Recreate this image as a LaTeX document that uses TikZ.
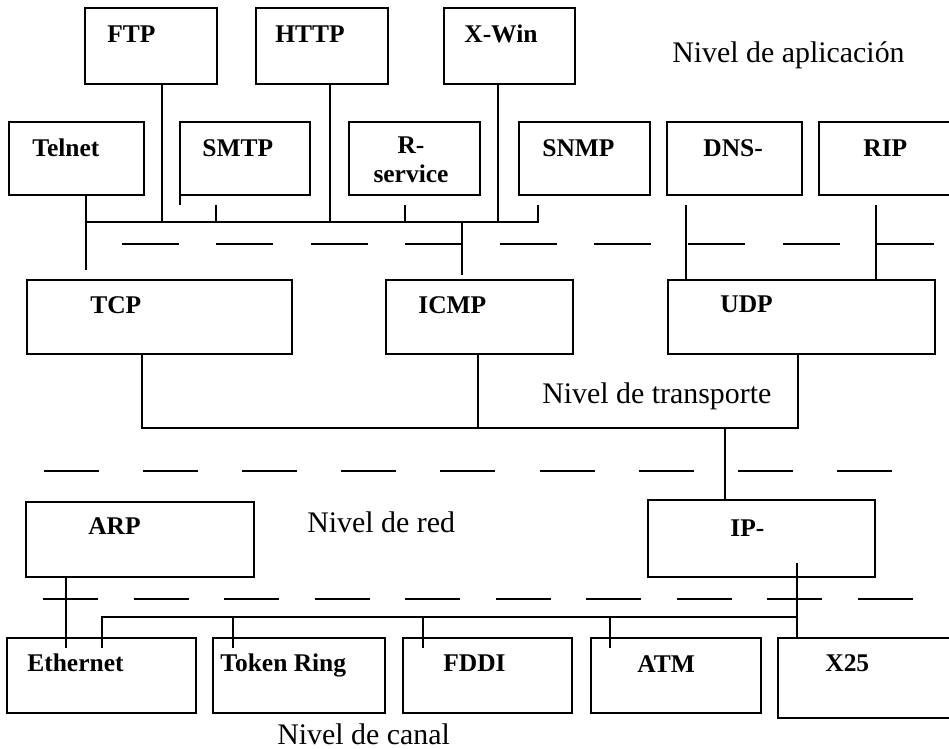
\documentclass[tikz,border=0pt]{standalone}
\usepackage{fontspec}
\setmainfont{Liberation Serif}

\begin{document}
\begin{tikzpicture}[x=0.2mm, y=-0.2mm,
	box/.style={draw, line width=1.1pt, anchor=north west, inner sep=0pt, outer sep=0pt},
	tag/.style={font=\fontsize{14.5}{17}\selectfont\bfseries, anchor=base west, inner sep=0pt},
	level/.style={font=\fontsize{17}{20}\selectfont, anchor=base west, inner sep=0pt},
	wire/.style={line width=1.1pt},
	sep/.style={line width=1.1pt}]
	\useasboundingbox (0,0) rectangle (949,749);
	\clip (0,0) rectangle (949,749);
	% protocol boxes: name/left/top/width/height (pixels)
	\foreach \n/\x/\y/\w/\h in {ftp/85/8/132/76, http/256/8/132/76, xwin/444/8/131/76,
			telnet/9/122/135/73, smtp/180/122/130/73, rsv/349/122/131/73, snmp/519/122/131/73,
			dns/667/122/135/73, rip/819/122/140/73,
			tcp/27/280/265/74, icmp/386/280/187/74, udp/668/280/267/74,
			arp/26/502/228/75, ip/648/500/227/77,
			eth/7/638/189/75, tok/213/638/172/75, fddi/403/638/169/75, atm/591/638/170/75, x25/778/638/180/80} {
		\node[box, minimum width=\w*0.2mm, minimum height=\h*0.2mm] (\n) at (\x,\y) {};
	}
	\foreach \n/\tx/\ty/\txt in {ftp/107/43/FTP, http/275/43/HTTP, xwin/464/43/X-Win,
			telnet/32/157/Telnet, smtp/202/157/SMTP, snmp/542/157/SNMP, dns/703/157/DNS-, rip/863/157/RIP,
			tcp/90/314/TCP, icmp/418/314/ICMP, udp/720/313/UDP, arp/88/535/ARP, ip/730/537/IP-,
			eth/27/672/Ethernet, tok/220/672/Token Ring, fddi/443/672/FDDI, atm/637/673/ATM, x25/825/672/X25} {
		\node[tag] (\n-t) at (\tx,\ty) {\txt};
	}
	\node[tag, anchor=north, align=center] (rsv-t) at (411,136) {R-\\service};

	% level names
	\node[level] (lapp) at (672,63) {Nivel de aplicación};
	\node[level] (ltrans) at (542,404) {Nivel de transporte};
	\node[level] (lred) at (307,533) {Nivel de red};
	\node[level] (lcanal) at (277,744) {Nivel de canal};

	% layer separators
	\draw[sep, dash pattern=on 11.4mm off 7.48mm] (122,244) -- (934,244);
	\draw[sep, dash pattern=on 11mm off 8.82mm] (44,471) -- (892,471);
	\draw[sep, dash pattern=on 11mm off 7.1mm] (43,599) -- (913,599);

	% application bus
	\coordinate (a1) at (86,222);
	\coordinate (a2) at (538,222);
	\draw[wire] (telnet.south -| a1) -- ([yshift=2mm]tcp.north -| a1);
	\draw[wire] (a1) -- (a2) -- ([yshift=-2mm]snmp.south -| a2);
	\foreach \n/\x in {ftp/162, http/330, xwin/498} {
		\coordinate (j\n) at (\x,222);
		\draw[wire] (\n.south -| j\n) -- (j\n);
	}
	\foreach \n/\x in {smtp/216, rsv/405} {
		\coordinate (j\n) at (\x,222);
		\draw[wire] ([yshift=-2mm]\n.south -| j\n) -- (j\n);
	}
	\draw[wire] (smtp.south west) -- ([yshift=-2mm]smtp.south west);
	\coordinate (jicmp) at (462,222);
	\draw[wire] (jicmp) -- ([yshift=1mm]icmp.north -| jicmp);
	\foreach \n/\x in {dns/686, rip/876} {
		\coordinate (j\n) at (\x,280);
		\draw[wire] ([yshift=-2mm]\n.south -| j\n) -- (udp.north -| j\n);
	}

	% transport bus
	\coordinate (t1) at (142,428);
	\coordinate (t2) at (798,428);
	\coordinate (ticmp) at (478,428);
	\coordinate (tip) at (725,428);
	\draw[wire] (tcp.south -| t1) -- (t1) -- (t2) -- (udp.south -| t2);
	\draw[wire] (icmp.south -| ticmp) -- (ticmp);
	\draw[wire] (tip) -- (ip.north -| tip);

	% channel bus
	\coordinate (c1) at (102,617);
	\coordinate (c2) at (797,617);
	\coordinate (carp) at (66,617);
	\draw[wire] ([yshift=-2mm]eth.north -| c1) -- (c1) -- (c2);
	\draw[wire] ([yshift=2.8mm]ip.south -| c2) -- (x25.north -| c2);
	\draw[wire] (arp.south -| carp) -- ([yshift=-2mm]eth.north -| carp);
	\foreach \n/\x in {tok/233, fddi/423, atm/610} {
		\coordinate (c\n) at (\x,617);
		\draw[wire] (c\n) -- ([yshift=-2mm]\n.north -| c\n);
	}
\end{tikzpicture}
\end{document}
